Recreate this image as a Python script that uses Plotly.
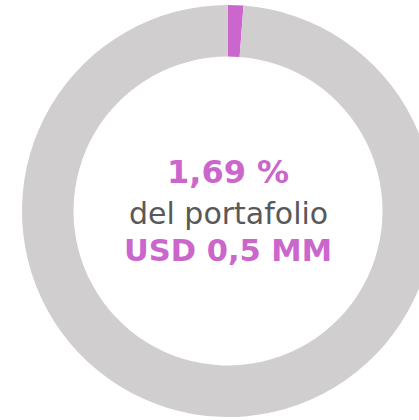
import plotly.graph_objects as go

labels = ["Portafolio", "Resto"]
values = [1.2, 98.8]
slice_colors = ["#CA66CC", "#D0CECF"]
center_lines = ["1,69 %", "del portafolio", "USD 0,5 MM"]

fig = go.Figure(go.Pie(
    labels=labels, values=values, hole=0.75, sort=False,
    direction="clockwise", rotation=0,
    marker=dict(colors=slice_colors, line=dict(width=0)),
    textinfo="none", hoverinfo="none", showlegend=False,
))

purple = "#CA66CC"
grey = "#595959"
ann = [
    dict(text="<b>%s</b>" % center_lines[0], y=0.5947, font=dict(size=32, color=purple)),
    dict(text=center_lines[1], y=0.4951, font=dict(size=30, color=grey)),
    dict(text="<b>%s</b>" % center_lines[2], y=0.4053, font=dict(size=30.5, color=purple)),
]
for a in ann:
    a.update(x=0.5, xref="paper", yref="paper", showarrow=False, xanchor="center", yanchor="middle")

fig.update_layout(
    width=456, height=420,
    margin=dict(l=22, r=22, t=5, b=3),
    paper_bgcolor="white", plot_bgcolor="white",
    font=dict(family="DejaVu Sans"),
    annotations=ann,
)
fig.write_html("out.html", config={"displayModeBar": False},
               post_script="document.body.style.margin='0';document.body.style.overflow='hidden';document.documentElement.style.overflow='hidden';")
